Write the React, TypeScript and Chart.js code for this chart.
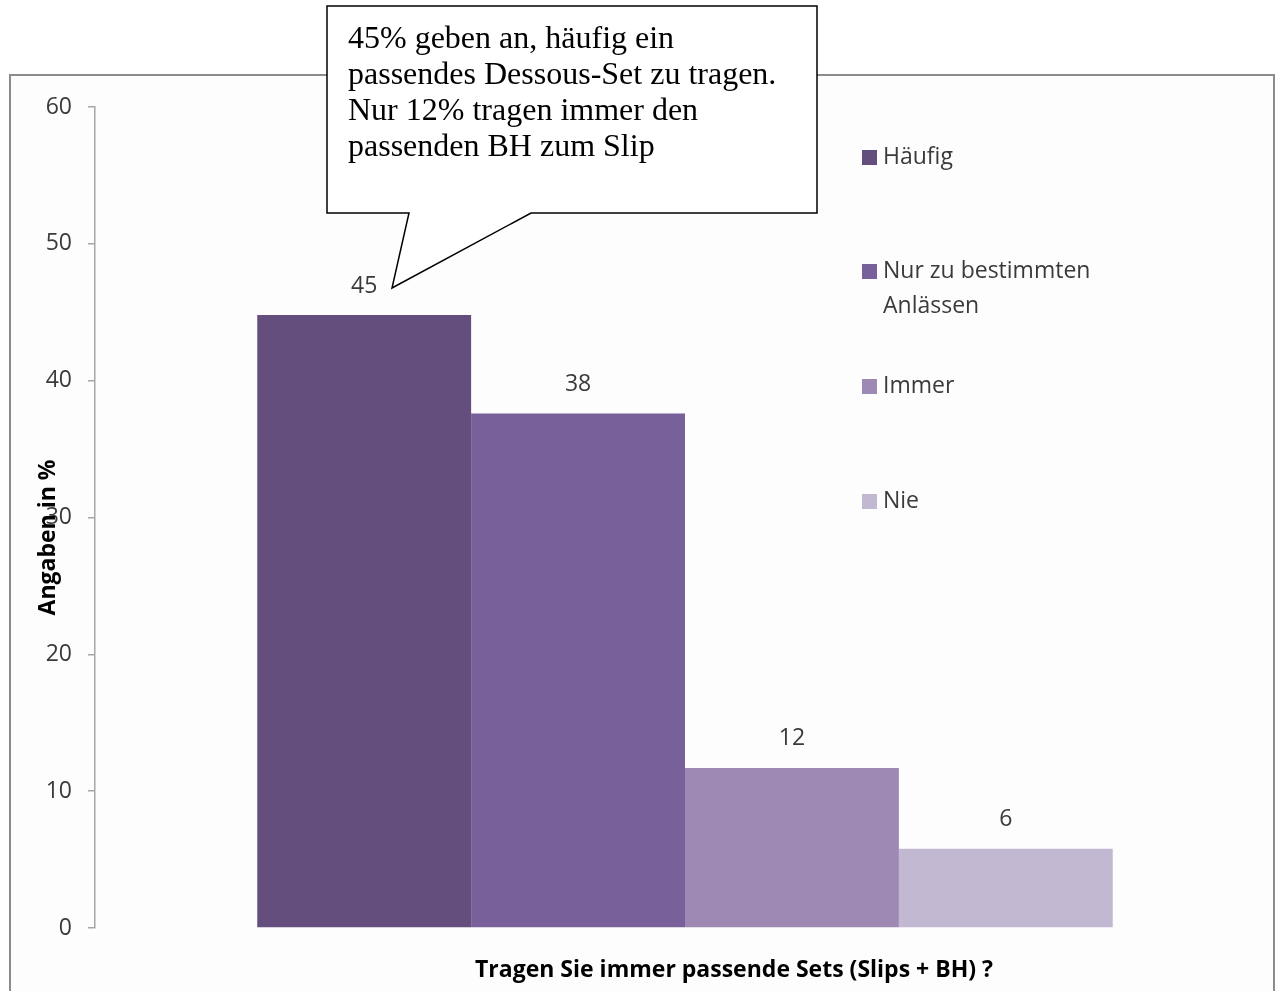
import React, { useEffect, useRef } from "react";
import { Chart, registerables } from "chart.js";

Chart.register(...registerables);

const categories = ["Tragen Sie immer passende Sets (Slips + BH) ?"];
const seriesNames = ["Häufig", "Nur zu bestimmten Anlässen", "Immer", "Nie"];
const seriesValues = [44.8, 37.6, 11.7, 5.8];
const seriesColors = ["#634E7E", "#78609A", "#9E88B4", "#C3B8D2"];
const yMin = 0;
const yMax = 60;
const yStep = 10;
const yAxisTitle = "Angaben in %";
const xAxisTitle = "Tragen Sie immer passende Sets (Slips + BH) ?";
const calloutLines = [
  "45% geben an, häufig ein",
  "passendes Dessous-Set zu tragen.",
  "Nur 12% tragen immer den",
  "passenden BH zum Slip",
];

const SANS = '"Open Sans", "Noto Sans", sans-serif';
const TEXT = "#3A3A3A";

const decorPlugin = {
  id: "decor",
  afterDatasetsDraw(chart: any) {
    const ctx = chart.ctx;
    ctx.save();
    ctx.font = `23px ${SANS}`;
    ctx.fillStyle = TEXT;
    ctx.textAlign = "center";
    ctx.textBaseline = "middle";
    chart.data.datasets.forEach((ds: any, i: number) => {
      const el = chart.getDatasetMeta(i).data[0];
      if (!el) return;
      ctx.fillText(String(Math.round(ds.data[0])), el.x, el.y - 29);
    });
    ctx.restore();
  },
  afterDraw(chart: any) {
    const ctx = chart.ctx;
    const area = chart.chartArea;
    ctx.save();
    // legend
    const rowY = [157, 271, 386, 501];
    ctx.textBaseline = "middle";
    ctx.textAlign = "left";
    ctx.font = `23px ${SANS}`;
    chart.data.datasets.forEach((ds: any, i: number) => {
      const y = rowY[i];
      ctx.fillStyle = ds.backgroundColor;
      ctx.fillRect(862, y - 7, 15, 15);
      ctx.fillStyle = TEXT;
      const words = String(ds.label).split(" ");
      const lines: string[] = [];
      let cur = "";
      words.forEach((w) => {
        const t = cur ? cur + " " + w : w;
        if (ctx.measureText(t).width > 225 && cur) {
          lines.push(cur);
          cur = w;
        } else cur = t;
      });
      if (cur) lines.push(cur);
      lines.forEach((l, j) => ctx.fillText(l, 883, y + j * 35));
    });
    // y title
    ctx.fillStyle = "#000";
    ctx.font = `bold 23px ${SANS}`;
    ctx.translate(48, (area.top + area.bottom) / 2 + 20);
    ctx.rotate(-Math.PI / 2);
    ctx.textAlign = "center";
    ctx.fillText(yAxisTitle, 0, 0);
    ctx.restore();
    // x title
    ctx.save();
    ctx.fillStyle = "#000";
    ctx.font = `bold 23px ${SANS}`;
    ctx.textAlign = "center";
    ctx.textBaseline = "middle";
    ctx.fillText(xAxisTitle, 734, 970);
    ctx.restore();
  },
};

export default function App() {
  const ref = useRef<HTMLCanvasElement | null>(null);
  useEffect(() => {
    if (!ref.current) return;
    const chart = new Chart(ref.current, {
      type: "bar",
      data: {
        labels: categories,
        datasets: seriesNames.map((name, i) => ({
          label: name,
          data: [seriesValues[i]],
          backgroundColor: seriesColors[i],
          borderWidth: 0,
          barPercentage: 1,
          categoryPercentage: 0.725,
        })),
      },
      options: {
        animation: false,
        responsive: false,
        devicePixelRatio: 1,
        layout: { padding: { left: 0, top: 107, right: 5, bottom: 63 } },
        plugins: { legend: { display: false }, tooltip: { enabled: false }, title: { display: false } },
        scales: {
          x: { display: false, offset: true },
          y: {
            min: yMin,
            max: yMax,
            afterFit: (s: any) => {
              s.width = 95;
            },
            ticks: {
              stepSize: yStep,
              font: { family: SANS, size: 23 },
              color: TEXT,
              padding: 16,
            },
            grid: {
              display: true,
              drawOnChartArea: false,
              drawTicks: true,
              tickLength: 7,
              color: "#A6A6A6",
              lineWidth: 1.5,
            },
            border: { display: true, color: "#A6A6A6", width: 1.5 },
          },
        },
      },
      plugins: [decorPlugin],
    });
    return () => chart.destroy();
  }, []);

  return (
    <div
      style={{
        position: "fixed",
        left: 0,
        top: 0,
        width: 1280,
        height: 991,
        overflow: "hidden",
        background: "#fff",
      }}
    >
      <div
        style={{
          position: "absolute",
          left: 9,
          top: 74,
          width: 1262,
          height: 1000,
          border: "2px solid #8C8C8C",
          background: "#fdfdfd",
        }}
      />
      <canvas
        ref={ref}
        width={1280}
        height={991}
        style={{ position: "absolute", left: 0, top: 0, width: 1280, height: 991 }}
      />
      <svg
        width={1280}
        height={991}
        style={{ position: "absolute", left: 0, top: 0, pointerEvents: "none" }}
      >
        <polygon
          points="327,6 817,6 817,213 531,213 392,288 409,213 327,213"
          fill="#fff"
          stroke="#000"
          strokeWidth={1.5}
        />
      </svg>
      <div
        style={{
          position: "absolute",
          left: 348,
          top: 19,
          fontFamily: '"Liberation Serif", "Times New Roman", serif',
          fontSize: 32,
          lineHeight: "36px",
          color: "#000",
          whiteSpace: "nowrap",
        }}
      >
        {calloutLines.map((l, i) => (
          <div key={i}>{l}</div>
        ))}
      </div>
    </div>
  );
}
